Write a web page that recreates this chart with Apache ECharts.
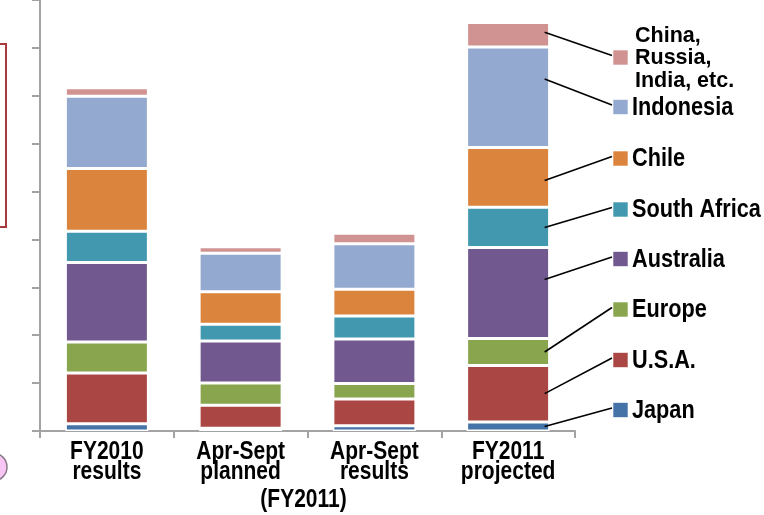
<!DOCTYPE html>
<html>
<head>
<meta charset="utf-8">
<script src="https://cdn.jsdelivr.net/npm/echarts@6/dist/echarts.min.js"></script>
<style>
  html, body { margin: 0; padding: 0; background: #fff; }
  #chart { width: 764px; height: 515px; }
</style>
</head>
<body>
<div id="chart"></div>
<script>
// ---- data ----
const categories = ['FY2010\nresults', 'Apr-Sept\nplanned', 'Apr-Sept\nresults', 'FY2011\nprojected'];
const japan       = [0.15, 0.06, 0.11, 0.19];
const usa         = [1.06, 0.48, 0.56, 1.18];
const europe      = [0.65, 0.46, 0.32, 0.56];
const australia   = [1.66, 0.88, 0.93, 1.90];
const southAfrica = [0.65, 0.35, 0.48, 0.84];
const chile       = [1.31, 0.68, 0.56, 1.25];
const indonesia   = [1.51, 0.80, 0.95, 2.10];
const china       = [0.18, 0.14, 0.22, 0.51];
const seriesNames = ['Japan', 'U.S.A.', 'Europe', 'Australia', 'South Africa', 'Chile', 'Indonesia', 'China, Russia, India, etc.'];
const legendLabels = ['Japan', 'U.S.A.', 'Europe', 'Australia', 'South Africa', 'Chile', 'Indonesia', 'China,\nRussia,\nIndia, etc.'];
const groupNote = '(FY2011)';

// ---- styles ----
const colors = ['#4572A7', '#AA4643', '#89A54E', '#71588F', '#4198AF', '#DB843D', '#93A9CF', '#D19392'];
const seriesData = [japan, usa, europe, australia, southAfrica, chile, indonesia, china];
const anchorFrac = [0.5, 0.5, 0.5, 0.65, 0.5, 0.45, 0.68, 0.6];
const legendCenters = [410, 360, 309.5, 259, 209.5, 158.5, 107, 57.5];
const axisColor = '#a3a3a3';
const boldFont = "'Liberation Sans', Arial, sans-serif";
const BAR_W = 83;

const chart = echarts.init(document.getElementById('chart'), null, { renderer: 'canvas' });

const series = seriesData.map((d, i) => ({
  name: seriesNames[i],
  type: 'bar',
  stack: 'total',
  data: d,
  barWidth: BAR_W,
  itemStyle: { color: colors[i], borderColor: '#ffffff', borderWidth: 1.5 },
  emphasis: { disabled: true },
  silent: true
}));

const option = {
  animation: false,
  backgroundColor: '#ffffff',
  grid: { left: 40, top: 0, width: 535, height: 431, containLabel: false },
  xAxis: {
    type: 'category',
    data: categories,
    axisLine: { show: true, lineStyle: { color: axisColor, width: 2 } },
    axisTick: { show: true, length: 7, lineStyle: { color: axisColor, width: 2 } },
    axisLabel: { show: false }
  },
  yAxis: {
    type: 'value', min: 0, max: 9, interval: 1,
    axisLine: { show: true, lineStyle: { color: axisColor, width: 2 } },
    axisTick: { show: true, length: 8, lineStyle: { color: axisColor, width: 2 } },
    axisLabel: { show: false },
    splitLine: { show: false }
  },
  series: series
};
chart.setOption(option);

// ---- graphic: category labels, legend, leader lines, decorations ----
const g = [];
// left decorations (cropped remnants of the source slide)
g.push({ id: 'redbox', type: 'rect', shape: { x: -10, y: 44, width: 16, height: 183 },
  style: { fill: 'none', stroke: '#a83c3c', lineWidth: 2 }, silent: true });
g.push({ id: 'pinkcirc', type: 'circle', shape: { cx: -7, cy: 467, r: 14 },
  style: { fill: '#f7c6f5', stroke: '#8b7b8b', lineWidth: 1.5 }, silent: true });

// category labels (stretched bold text, placed at the category positions of the axis)
const catX = categories.map((c, i) => chart.convertToPixel({ gridIndex: 0 }, [i, 0])[0]);
categories.forEach((c, i) => {
  g.push({ id: 'cat' + i, type: 'text', x: catX[i], y: 462.5, scaleY: 1.2,
    style: { text: c, fill: '#000', font: 'bold 21px ' + boldFont, lineHeight: 16.7,
      textAlign: 'center', textVerticalAlign: 'middle' }, silent: true });
});
g.push({ id: 'note', type: 'text', x: (catX[1] + catX[2]) / 2 - 4, y: 500, scaleY: 1.2,
  style: { text: groupNote, fill: '#000', font: 'bold 21px ' + boldFont,
    textAlign: 'center', textVerticalAlign: 'middle' }, silent: true });

// legend
seriesData.forEach((d, i) => {
  const cy = legendCenters[i];
  g.push({ id: 'lsq' + i, type: 'rect', shape: { x: 613, y: cy - 7.5, width: 15, height: 15 },
    style: { fill: colors[i], stroke: 'rgba(255,255,255,0.6)', lineWidth: 1 }, silent: true });
  const multi = legendLabels[i].indexOf('\n') >= 0;
  if (multi) {
    g.push({ id: 'ltx' + i, type: 'text', x: 635, y: cy + 1,
      style: { text: legendLabels[i], fill: '#000', font: 'bold 21.5px ' + boldFont, lineHeight: 22.5,
        textAlign: 'left', textVerticalAlign: 'middle' }, silent: true });
  } else {
    g.push({ id: 'ltx' + i, type: 'text', x: 632, y: cy + 1, scaleY: 1.16,
      style: { text: legendLabels[i], fill: '#000', font: 'bold 21.7px ' + boldFont,
        textAlign: 'left', textVerticalAlign: 'middle' }, silent: true });
  }
});

// leader lines from the FY2011 projected bar
const idx = 3;
let cum = 0;
seriesData.forEach((d, i) => {
  const v = d[idx];
  const p = chart.convertToPixel({ gridIndex: 0 }, [idx, cum + v * anchorFrac[i]]);
  cum += v;
  const x1 = p[0] + BAR_W / 2 - 5;
  g.push({ id: 'lead' + i, type: 'line',
    shape: { x1: x1, y1: p[1], x2: 612, y2: legendCenters[i] - 2 },
    style: { stroke: '#000', lineWidth: 1.6 }, silent: true, z: 10 });
});

chart.setOption({ graphic: g });
</script>
</body>
</html>
